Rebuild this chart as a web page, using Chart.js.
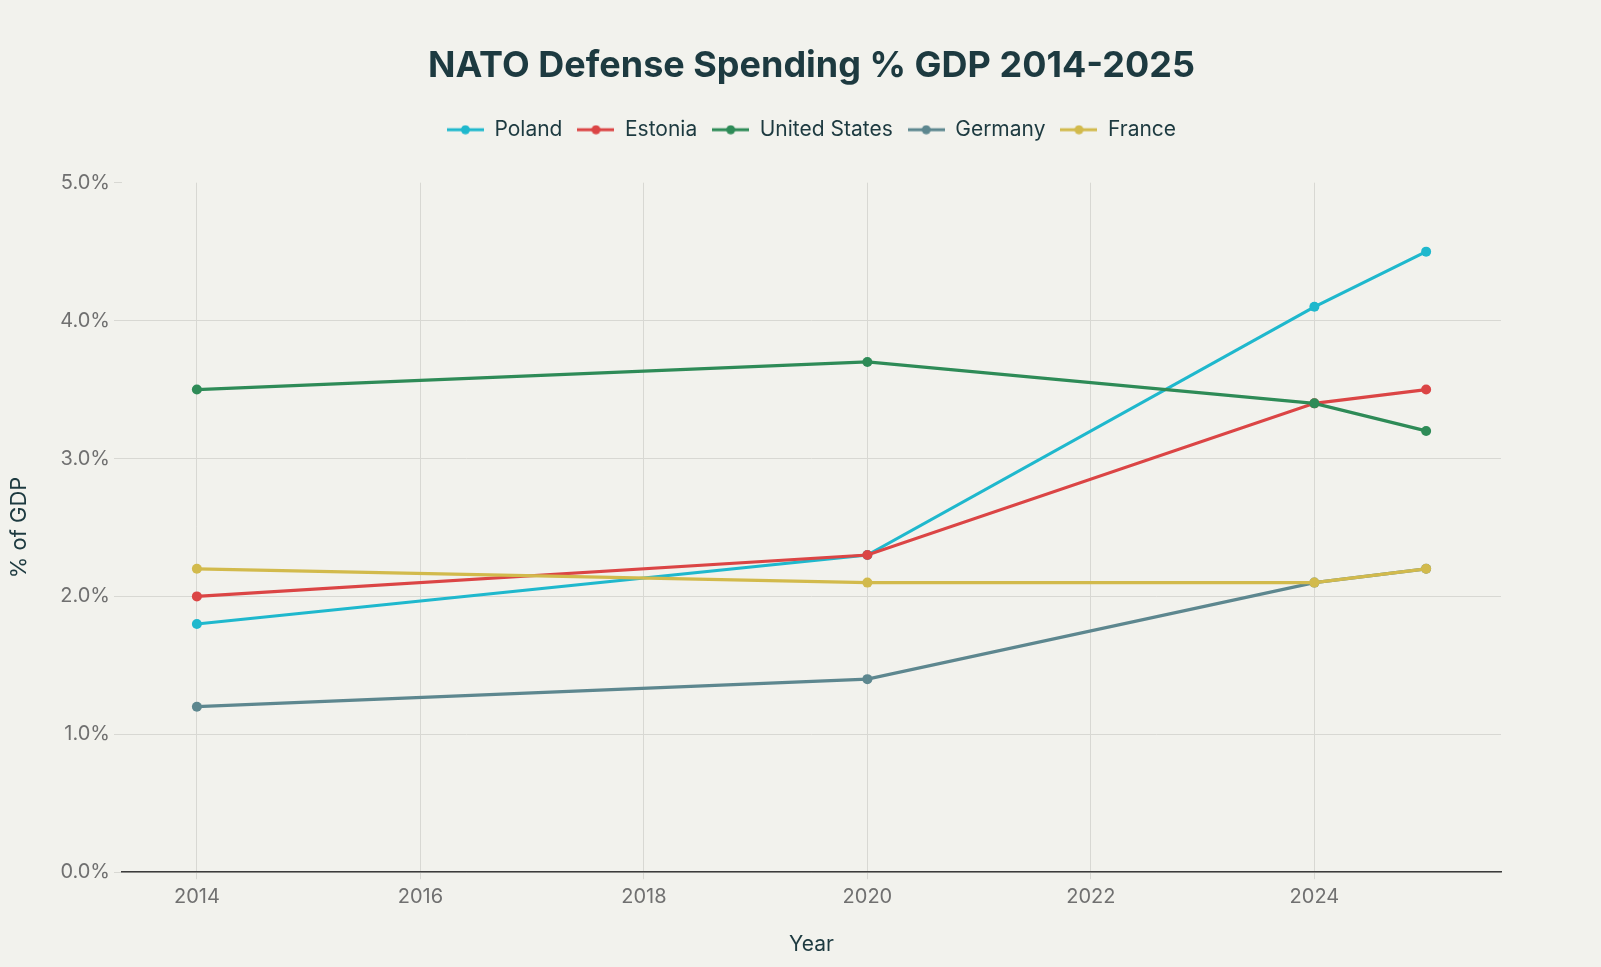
<!DOCTYPE html>
<html>
<head>
<meta charset="utf-8">
<title>NATO Defense Spending % GDP 2014-2025</title>
<script src="https://cdn.jsdelivr.net/npm/chart.js@4/dist/chart.umd.min.js"></script>
<style>
  html, body { margin: 0; padding: 0; background: #f2f2ed; }
  #wrap { width: 1601px; height: 967px; }
</style>
</head>
<body>
<div id="wrap"><canvas id="chart" width="1601" height="967"></canvas></div>
<script>
// ── Data ──────────────────────────────────────────────────────────────────────
const years = [2014, 2020, 2024, 2025];
const xTickValues = [2014, 2016, 2018, 2020, 2022, 2024];
const yTickValues = [0, 1, 2, 3, 4, 5];

const poland       = [1.8, 2.3, 4.1, 4.5];
const estonia      = [2.0, 2.3, 3.4, 3.5];
const unitedStates = [3.5, 3.7, 3.4, 3.2];
const germany      = [1.2, 1.4, 2.1, 2.2];
const france       = [2.2, 2.1, 2.1, 2.2];

const seriesNames  = ["Poland", "Estonia", "United States", "Germany", "France"];
const seriesValues = [poland, estonia, unitedStates, germany, france];
const seriesColors = ["#1FB8CD", "#DB4545", "#2E8B57", "#5D878F", "#D2BA4C"];

// ── Style ─────────────────────────────────────────────────────────────────────
const FONT = "Inter, 'Open Sans', sans-serif";
const TEXT_DARK = "#1d3a40";
const TEXT_GRAY = "#707070";
const GRID = "#d8d8d3";

// small line+dot swatch for the legend
function legendSwatch(color) {
  const c = document.createElement("canvas");
  c.width = 37; c.height = 10;
  const g = c.getContext("2d");
  g.strokeStyle = color; g.lineWidth = 3;
  g.beginPath(); g.moveTo(0, 5); g.lineTo(37, 5); g.stroke();
  g.fillStyle = color;
  g.beginPath(); g.arc(18.5, 5, 4.5, 0, Math.PI * 2); g.fill();
  return c;
}

const datasets = seriesNames.map((name, i) => ({
  label: name,
  data: years.map((y, j) => ({ x: y, y: seriesValues[i][j] })),
  borderColor: seriesColors[i],
  backgroundColor: seriesColors[i],
  borderWidth: 3.2,
  pointRadius: 5,
  pointHoverRadius: 5,
  pointBorderWidth: 0,
  tension: 0,
  order: seriesNames.length - i, // later series drawn on top
}));

// background fill
const bgPlugin = {
  id: "bg",
  beforeDraw(chart) {
    const ctx = chart.ctx;
    ctx.save();
    ctx.fillStyle = "#f2f2ed";
    ctx.fillRect(0, 0, chart.width, chart.height);
    ctx.restore();
  },
};

new Chart(document.getElementById("chart"), {
  type: "line",
  data: { datasets },
  plugins: [bgPlugin],
  options: {
    responsive: false,
    animation: false,
    layout: { padding: { top: 35, left: 0, right: 100, bottom: 10 } },
    plugins: {
      title: {
        display: true,
        text: "NATO Defense Spending % GDP 2014-2025",
        fullSize: false,
        color: TEXT_DARK,
        font: { family: FONT, size: 36, weight: "bold" },
        padding: { top: 10, bottom: 16 },
      },
      subtitle: { // spacer between legend and plot
        display: true, text: "", weight: 500, fullSize: false,
        font: { size: 10 }, padding: { top: 20.5, bottom: 0 },
      },
      legend: {
        display: true,
        position: "top",
        fullSize: false,
        labels: {
          usePointStyle: true,
          pointStyleWidth: 37,
          boxWidth: 37,
          padding: 15,
          color: TEXT_DARK,
          font: { family: FONT, size: 21 },
          sort: (a, b) => a.datasetIndex - b.datasetIndex,
          generateLabels(chart) {
            return chart.data.datasets.map((ds, i) => ({
              text: ds.label,
              datasetIndex: i,
              pointStyle: legendSwatch(ds.borderColor),
              fillStyle: ds.borderColor,
              strokeStyle: ds.borderColor,
              fontColor: TEXT_DARK,
              lineWidth: 0,
              hidden: !chart.isDatasetVisible(i),
            }));
          },
        },
      },
      tooltip: { enabled: false },
    },
    scales: {
      x: {
        type: "linear",
        min: 2013.33,
        max: 2025.67,
        afterBuildTicks: (s) => { s.ticks = xTickValues.map((v) => ({ value: v })); },
        grid: { color: GRID, tickLength: 7, tickColor: GRID },
        border: { display: true, color: "#3c3c3c", width: 1.5 },
        ticks: {
          color: TEXT_GRAY, padding: 6,
          font: { family: FONT, size: 20 },
          callback: (v) => String(v),
        },
        title: {
          display: true, text: "Year", color: TEXT_DARK,
          font: { family: FONT, size: 21 },
          padding: { top: 16.6, bottom: 0 },
        },
      },
      y: {
        min: 0,
        max: 5,
        afterBuildTicks: (s) => { s.ticks = yTickValues.map((v) => ({ value: v })); },
        afterFit: (s) => { s.width = 122; },
        grid: {
          color: (c) => (c.tick && c.tick.value === 5 ? "rgba(0,0,0,0)" : GRID),
          tickColor: GRID, tickLength: 8,
        },
        border: { display: false },
        ticks: {
          color: TEXT_GRAY, padding: 4,
          font: { family: FONT, size: 20 },
          callback: (v) => v.toFixed(1) + "%",
        },
        title: {
          display: true, text: "% of GDP", color: TEXT_DARK,
          font: { family: FONT, size: 22 },
          padding: { top: 6, bottom: 0 },
        },
      },
    },
  },
});
</script>
</body>
</html>
